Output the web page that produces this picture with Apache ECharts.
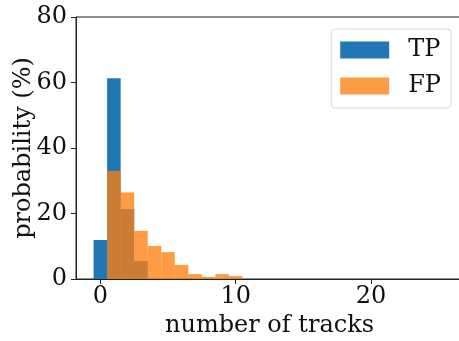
<!DOCTYPE html>
<html>
<head>
<meta charset="utf-8">
<script src="https://cdn.jsdelivr.net/npm/echarts@6/dist/echarts.min.js"></script>
<style>html,body{margin:0;padding:0;background:#fff}#c{width:459px;height:341px}</style>
</head>
<body>
<div id="c"></div>
<script>
// bin centres (number of tracks)
const tpBins = [0, 1, 2, 3];
const tpValues = [11.9, 61.3, 21.4, 5.5];
const fpBins = [1, 2, 3, 4, 5, 6, 7, 8, 9, 10];
const fpValues = [33.0, 26.4, 14.7, 10.1, 8.2, 4.3, 1.5, 0.6, 1.5, 0.9];
const xTicks = [0, 10, 20];

const FONT = 'DejaVu Serif';
const FS = 24;

function histItem(params, api) {
  const x = api.value(0), y = api.value(1);
  const p0 = api.coord([x - 0.5, y]);
  const p1 = api.coord([x + 0.5, 0]);
  return {
    type: 'rect',
    shape: { x: p0[0], y: p0[1], width: p1[0] - p0[0], height: p1[1] - p0[1] },
    style: api.style()
  };
}

const chart = echarts.init(document.getElementById('c'), null, { renderer: 'canvas' });
chart.setOption({
  animation: false,
  textStyle: { fontFamily: FONT },
  grid: {
    left: 76, top: 17, width: 387, height: 262,
    containLabel: false, outerBoundsMode: 'none',
    show: true, borderColor: '#222', borderWidth: 1, backgroundColor: 'transparent'
  },
  legend: {
    right: 8, top: 29,
    orient: 'vertical',
    itemWidth: 49, itemHeight: 17, itemGap: 12,
    padding: [9, 10, 10, 9],
    borderColor: '#d8d8d8', borderWidth: 1, borderRadius: 4,
    icon: 'rect',
    textStyle: { fontFamily: FONT, fontSize: FS, color: '#111', padding: [0, 0, 0, 14] },
    data: ['TP', 'FP']
  },
  xAxis: {
    type: 'value', min: -1.8, max: 26.8, interval: 10,
    name: 'number of tracks', nameLocation: 'middle', nameGap: 35, nameMoveOverlap: false,
    nameTextStyle: { fontFamily: FONT, fontSize: FS, color: '#111' },
    axisLine: { show: true, onZero: false, lineStyle: { color: '#222', width: 1 } },
    axisTick: { show: true, length: 5, lineStyle: { color: '#222' }, customValues: xTicks },
    axisLabel: { fontFamily: FONT, fontSize: FS, color: '#111', margin: 6, customValues: xTicks },
    splitLine: { show: false }
  },
  yAxis: {
    type: 'value', min: 0, max: 80, interval: 20,
    name: 'probability (%)', nameLocation: 'middle', nameGap: 40, nameRotate: 90, nameMoveOverlap: false,
    nameTextStyle: { fontFamily: FONT, fontSize: FS, color: '#111' },
    axisLine: { show: true, onZero: false, lineStyle: { color: '#222', width: 1 } },
    axisTick: { show: true, length: 5, lineStyle: { color: '#222' } },
    axisLabel: { fontFamily: FONT, fontSize: FS, color: '#111', margin: 9 },
    splitLine: { show: false }
  },
  series: [
    {
      name: 'TP', type: 'custom', renderItem: histItem,
      itemStyle: { color: '#1f77b4' },
      encode: { x: 0, y: 1 },
      data: tpBins.map((b, i) => [b, tpValues[i]])
    },
    {
      name: 'FP', type: 'custom', renderItem: histItem,
      itemStyle: { color: 'rgba(255,127,14,0.78)' },
      encode: { x: 0, y: 1 },
      data: fpBins.map((b, i) => [b, fpValues[i]])
    }
  ]
});
</script>
</body>
</html>
